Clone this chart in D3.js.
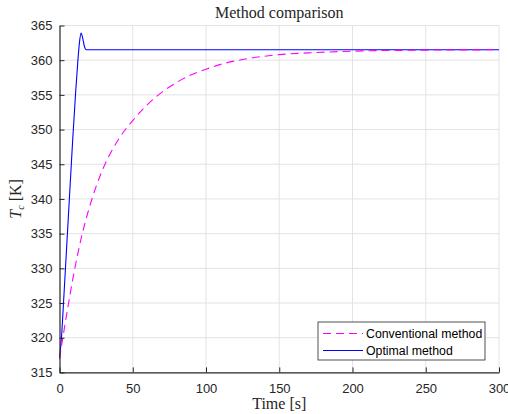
<!DOCTYPE html>
<meta charset="utf-8">
<head>
  <title>Method comparison</title>
</head>
<style>
body { margin: 0; background: #fff; }
.tick text { font: 13px "Liberation Sans", Arial, sans-serif; fill: #262626; }
.grid line { stroke: #e3e3e3; stroke-width: 1px; }
.serif { font-family: "Liberation Serif", "DejaVu Serif", serif; fill: #262626; }
</style>
<body>
<script src="https://d3js.org/d3.v7.min.js"></script>
<script>
var width = 508,
  height = 414

var margin = {top: 25.5, right: 9, bottom: 41.6, left: 59.5}

// readings: time [s], Tc [K]
var convT = [0, 5, 10, 15, 20, 25, 30, 40, 50, 60, 70, 80, 90, 100, 110, 125, 150, 175, 200, 250, 300]
var convY = [317, 323.5, 329.5, 334.5, 338.5, 341.8, 344.5, 348.5, 351.3, 353.6, 355.4, 356.8, 357.9, 358.7, 359.4, 360.1, 360.8, 361.1, 361.3, 361.45, 361.5]

var optT = [0, 1.5, 3, 5, 7, 9, 11, 12.5, 13.6, 14.7, 15.7, 17, 18.3, 300]
var optY = [317, 320.5, 326, 333.5, 341, 348.5, 355.3, 359.8, 362.5, 363.9, 363.3, 362, 361.5, 361.5]

var xTicks = [0, 50, 100, 150, 200, 250, 300]
var yTicks = [315, 320, 325, 330, 335, 340, 345, 350, 355, 360, 365]

var seriesNames = ["Conventional method", "Optimal method"]

var svg = d3.select("body").append("svg")
    .attr("width", width)
    .attr("height", height)

var x = d3.scaleLinear().domain([0, 300]).range([margin.left, width - margin.right])
var y = d3.scaleLinear().domain([315, 365]).range([height - margin.bottom, margin.top])

// grid
svg.append("g").attr("class", "grid")
  .selectAll("line").data(xTicks.slice(1))
  .enter().append("line")
    .attr("x1", function(d) { return x(d) }).attr("x2", function(d) { return x(d) })
    .attr("y1", y(315)).attr("y2", y(365))
svg.append("g").attr("class", "grid")
  .selectAll("line").data(yTicks.slice(1))
  .enter().append("line")
    .attr("y1", function(d) { return y(d) }).attr("y2", function(d) { return y(d) })
    .attr("x1", x(0)).attr("x2", x(300))

// lines
var conv = convT.map(function(t, i) { return [t, convY[i]] })
var opt = optT.map(function(t, i) { return [t, optY[i]] })

var line = d3.line()
  .curve(d3.curveMonotoneX)
  .x(function(d) { return x(d[0]) })
  .y(function(d) { return y(d[1]) })

svg.append("path").datum(opt)
  .attr("fill", "none").attr("stroke", "#0000ff").attr("stroke-width", 1.1)
  .attr("d", line)

svg.append("path").datum(conv)
  .attr("fill", "none").attr("stroke", "#ff00ff").attr("stroke-width", 1.1)
  .attr("stroke-dasharray", "8,5")
  .attr("d", line)

// axes
var xAxis = svg.append("g")
  .attr("transform", "translate(0," + y(315) + ")")
  .call(d3.axisBottom(x).tickValues(xTicks).tickSizeInner(-5).tickSizeOuter(0).tickPadding(11))
var yAxis = svg.append("g")
  .attr("transform", "translate(" + x(0) + ",0)")
  .call(d3.axisLeft(y).tickValues(yTicks).tickSizeInner(-5).tickSizeOuter(0).tickPadding(7))

svg.selectAll(".domain").attr("stroke", "#262626").attr("stroke-width", 1.2)
svg.selectAll(".tick line").attr("stroke", "#262626")

// titles
svg.append("text").attr("class", "serif")
  .attr("x", (x(0) + x(300)) / 2).attr("y", 18)
  .attr("text-anchor", "middle").style("font-size", "16px")
  .text("Method comparison")

svg.append("text").attr("class", "serif")
  .attr("x", (x(0) + x(300)) / 2).attr("y", 409)
  .attr("text-anchor", "middle").style("font-size", "16px")
  .text("Time [s]")

var yl = svg.append("text").attr("class", "serif")
  .attr("transform", "translate(21," + ((y(315) + y(365)) / 2) + ") rotate(-90)")
  .attr("text-anchor", "middle").style("font-size", "16px")
yl.append("tspan").style("font-style", "italic").text("T")
yl.append("tspan").attr("dy", 3).style("font-size", "10px").style("font-style", "italic").text("c")
yl.append("tspan").attr("dy", -3).text(" [K]")

// legend
var lg = svg.append("g").attr("transform", "translate(318,322)")
lg.append("rect").attr("width", 167).attr("height", 38)
  .attr("fill", "#fff").attr("stroke", "#262626").attr("stroke-width", 0.8)
var colors = ["#ff00ff", "#0000ff"]
seriesNames.forEach(function(name, i) {
  var ly = 11.5 + i * 17
  lg.append("line").attr("x1", 5).attr("x2", 45).attr("y1", ly).attr("y2", ly)
    .attr("stroke", colors[i]).attr("stroke-width", 1.1)
    .attr("stroke-dasharray", i == 0 ? "8,5" : null)
  lg.append("text").attr("x", 48).attr("y", ly + 4.5)
    .style("font", "12.3px 'Liberation Sans', Arial, sans-serif").style("fill", "#000")
    .text(name)
})
</script>
</body>
